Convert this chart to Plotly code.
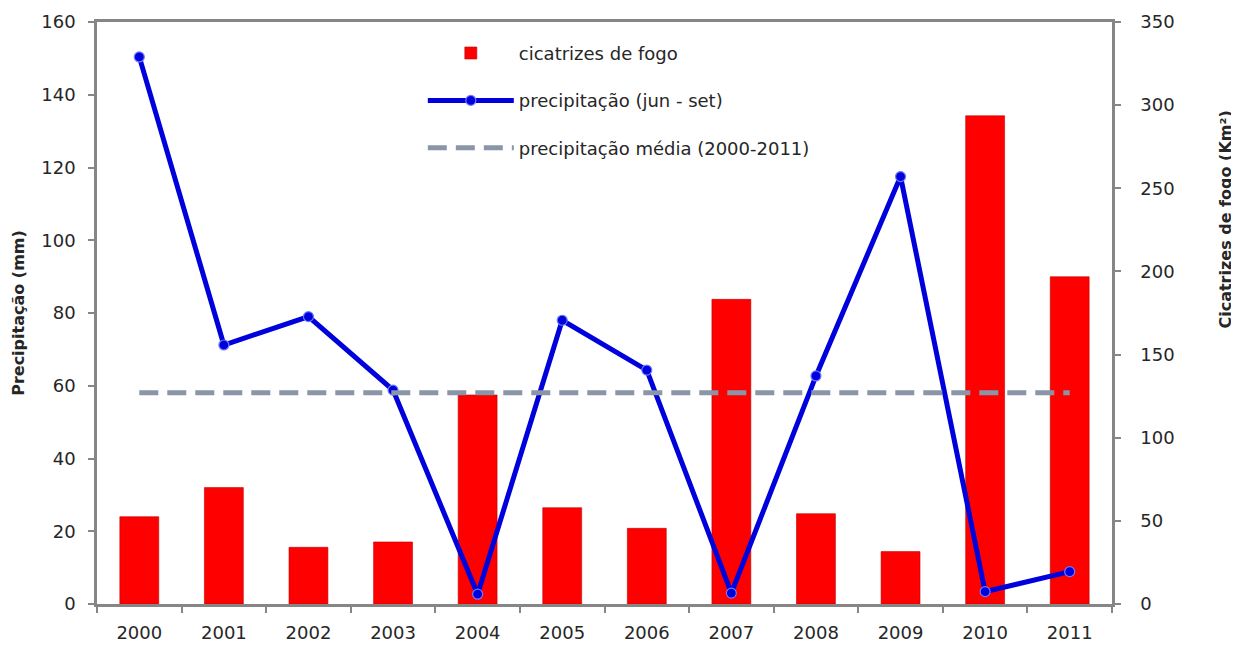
import plotly.graph_objects as go

years = ["2000", "2001", "2002", "2003", "2004", "2005", "2006", "2007", "2008", "2009", "2010", "2011"]
cicatrizes = [52.5, 70, 34.1, 37.3, 125.7, 57.9, 45.5, 183.2, 54.3, 31.5, 293.6, 196.8]
precipitacao = [150.4, 71.2, 79.0, 58.8, 2.7, 78.0, 64.3, 3.0, 62.7, 117.5, 3.4, 8.9]
precip_media = [58.1] * len(years)

FONT = "DejaVu Sans"
AXIS_COLOR = "#868686"
TEXT_COLOR = "#262626"

fig = go.Figure()
# bars on the primary axis (drawn on the right side) so that the lines are drawn above them
fig.add_trace(go.Bar(
    x=years, y=cicatrizes, name="cicatrizes de fogo", yaxis="y",
    marker=dict(color="#FF0000", line=dict(color="#C00000", width=0.6)),
    legendgroup="a",
))
fig.add_trace(go.Scatter(
    x=years, y=precipitacao, name="precipitação (jun - set)", mode="lines+markers",
    yaxis="y2",
    line=dict(color="#0000DD", width=5),
    marker=dict(size=10, color="#0000DD", line=dict(color="#6E7BFF", width=1.2)),
    legendgroup="b",
))
fig.add_trace(go.Scatter(
    x=years, y=precip_media, name="precipitação média (2000-2011)", mode="lines",
    yaxis="y2",
    line=dict(color="#8A95A8", width=5, dash="19px,9px"),
    legendgroup="c",
))

# the page body adds an 8px margin, so the figure is 8px smaller than the window
fig.update_layout(
    width=1231, height=637,
    margin=dict(l=89, r=127, t=14, b=41, autoexpand=False),
    paper_bgcolor="white", plot_bgcolor="white",
    font=dict(family=FONT, size=18, color=TEXT_COLOR),
    bargap=0.54,
    showlegend=True,
    legend=dict(
        x=0.321, y=0.978, xanchor="left", yanchor="top",
        bgcolor="rgba(255,255,255,0)",
        font=dict(family=FONT, size=18, color=TEXT_COLOR),
        traceorder="grouped", tracegroupgap=21,
        itemwidth=86,
    ),
    xaxis=dict(
        type="category", tickson="boundaries", range=[-0.5, 11.5],
        ticks="outside", ticklen=6, tickcolor=AXIS_COLOR, tickwidth=1.5,
        showline=True, linecolor=AXIS_COLOR, linewidth=2.5, mirror=True,
        showgrid=False, tickfont=dict(size=18), ticklabelstandoff=11,
        automargin=False,
    ),
    yaxis=dict(
        range=[0, 350], dtick=50, side="right",
        ticks="outside", ticklen=6, tickcolor=AXIS_COLOR, tickwidth=1.5,
        showline=True, linecolor=AXIS_COLOR, linewidth=2.5,
        showgrid=False, zeroline=False, tickfont=dict(size=18),
        ticklabelposition="outside", ticklabelstandoff=16,
        automargin=False,
    ),
    yaxis2=dict(
        range=[0, 160], dtick=20, overlaying="y", side="left",
        ticks="outside", ticklen=6, tickcolor=AXIS_COLOR, tickwidth=1.5,
        showline=True, linecolor=AXIS_COLOR, linewidth=2.5,
        showgrid=False, zeroline=False, tickfont=dict(size=18),
        ticklabelstandoff=9, automargin=False,
    ),
    annotations=[
        dict(text="<b>Precipitação (mm)</b>", xref="paper", yref="paper",
             x=-0.078, y=0.5, textangle=-90, showarrow=False,
             xanchor="center", yanchor="middle",
             font=dict(family=FONT, size=16, color=TEXT_COLOR)),
        dict(text="<b>Cicatrizes de fogo (Km²)</b>", xref="paper", yref="paper",
             x=1.112, y=0.66, textangle=-90, showarrow=False,
             xanchor="center", yanchor="middle",
             font=dict(family=FONT, size=16, color=TEXT_COLOR)),
    ],
)

fig.write_html("out.html")
